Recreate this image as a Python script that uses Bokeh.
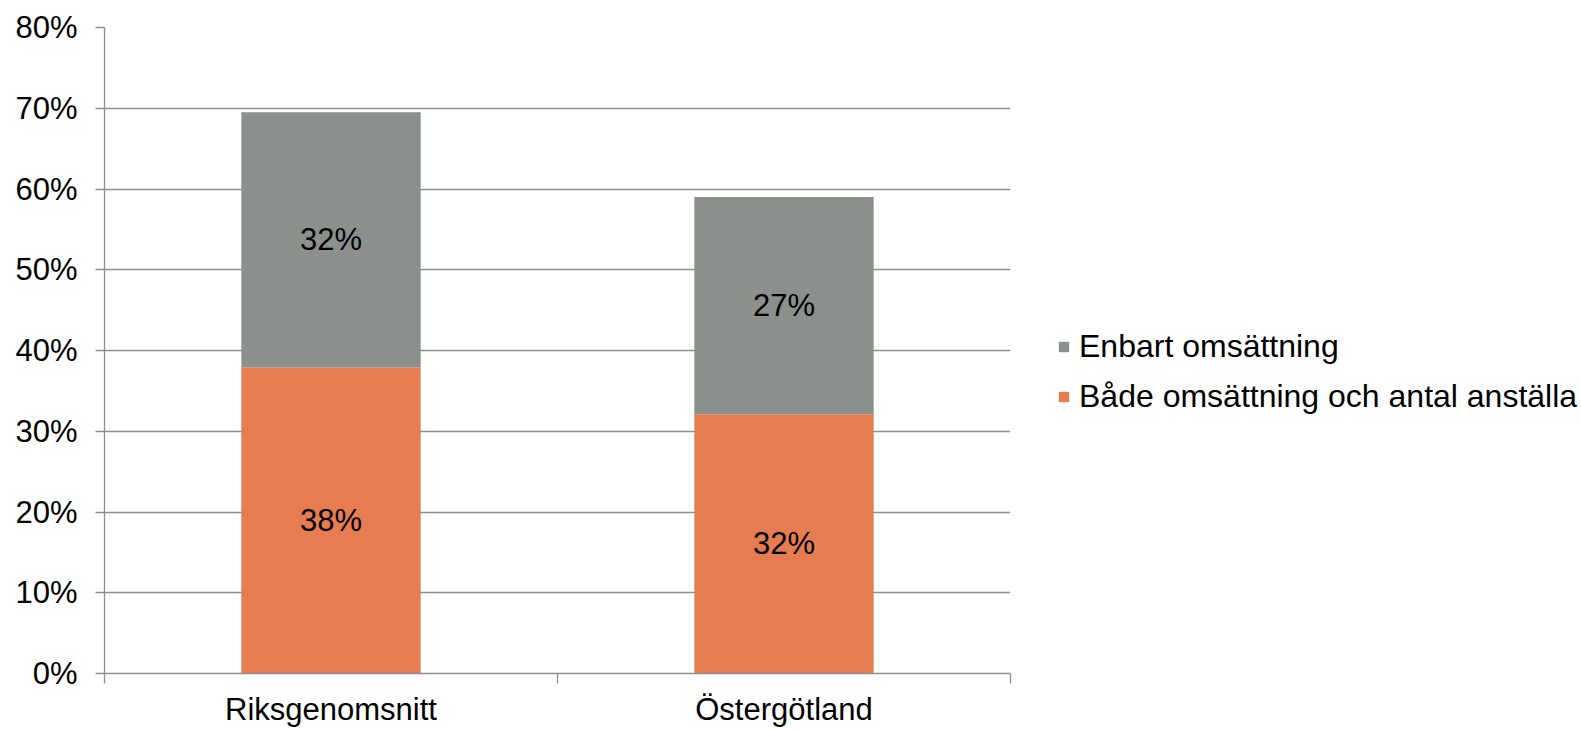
from bokeh.plotting import figure
from bokeh.models import (ColumnDataSource, FixedTicker, PrintfTickFormatter, Legend,
                          LegendItem, Range1d, LabelSet)
from bokeh.core.properties import value
from bokeh.embed import file_html
from bokeh.resources import INLINE

categories = ["Riksgenomsnitt", "Östergötland"]
bada = [37.9, 32.1]          # Både omsättning och antal anställa
enbart = [31.6, 26.9]        # Enbart omsättning
series_names = ["Enbart omsättning", "Både omsättning och antal anställa"]
y_ticks = [0, 10, 20, 30, 40, 50, 60, 70, 80]

ORANGE = "#E77C50"
GRAY = "#8B908D"
GRID = "#8E8E8E"
FONT = "Liberation Sans"
FS = "31px"

xpos = [i + 0.5 for i in range(len(categories))]
top2 = [a + b for a, b in zip(bada, enbart)]

src = ColumnDataSource(dict(
    x=xpos,
    b0=[0] * len(categories), t0=bada,
    b1=bada, t1=top2,
    m0=[v / 2 for v in bada],
    m1=[a + b / 2 for a, b in zip(bada, enbart)],
    l0=[f"{round(v)}%" for v in bada],
    l1=[f"{round(v)}%" for v in enbart],
))

p = figure(frame_width=906, frame_height=646, output_backend="svg", toolbar_location=None,
           x_range=Range1d(0, len(categories)), y_range=Range1d(0, 80),
           min_border_left=104, min_border_right=0, min_border_top=27, min_border_bottom=0)
p.outline_line_color = None
p.background_fill_color = "white"
p.border_fill_color = "white"

r_orange = p.vbar(x="x", bottom="b0", top="t0", width=0.396, source=src,
                  fill_color=ORANGE, line_color=None)
r_gray = p.vbar(x="x", bottom="b1", top="t1", width=0.396, source=src,
                fill_color=GRAY, line_color=None)

for ycol, lcol in (("m0", "l0"), ("m1", "l1")):
    ls = LabelSet(x="x", y=ycol, text=lcol, source=src, text_align="center",
                  text_baseline="middle", text_font=value(FONT), text_font_size=value(FS),
                  text_color="black")
    p.add_layout(ls)

# y axis
yax = p.yaxis[0]
yax.ticker = FixedTicker(ticks=y_ticks, minor_ticks=[])
yax.formatter = PrintfTickFormatter(format="%d%%")
yax.major_label_text_font = FONT
yax.major_label_text_font_size = FS
yax.major_label_text_color = "black"
yax.major_tick_out = 9
yax.major_tick_in = 0
yax.minor_tick_line_color = None
yax.axis_line_color = GRID
yax.major_tick_line_color = GRID
yax.axis_line_width = 1.3
yax.major_tick_line_width = 1.3
yax.major_label_standoff = 18

# x axis
xax = p.xaxis[0]
xax.ticker = FixedTicker(ticks=xpos, minor_ticks=list(range(len(categories) + 1)))
xax.major_label_overrides = {x: c for x, c in zip(xpos, categories)}
xax.major_label_text_font = FONT
xax.major_label_text_font_size = FS
xax.major_label_text_color = "black"
xax.major_tick_line_color = None
xax.major_tick_out = 0
xax.major_tick_in = 0
xax.minor_tick_out = 10
xax.minor_tick_in = 0
xax.minor_tick_line_color = GRID
xax.minor_tick_line_width = 1.3
xax.axis_line_color = GRID
xax.axis_line_width = 1.3
xax.major_label_standoff = 8

p.xgrid.grid_line_color = None
p.ygrid.ticker = FixedTicker(ticks=y_ticks)
p.ygrid.grid_line_color = GRID
p.ygrid.grid_line_width = 1.3

legend = Legend(items=[LegendItem(label=series_names[0], renderers=[r_gray]),
                       LegendItem(label=series_names[1], renderers=[r_orange])],
                location=(47, 257))
legend.label_text_font = FONT
legend.label_text_font_size = "32px"
legend.label_text_color = "black"
legend.glyph_width = 13
legend.glyph_height = 13
legend.label_standoff = 9
legend.label_height = 40
legend.spacing = 10
legend.padding = 0
legend.margin = 0
legend.border_line_color = None
legend.background_fill_alpha = 0
p.add_layout(legend, "right")

open("out.html", "w").write(file_html(p, INLINE))
